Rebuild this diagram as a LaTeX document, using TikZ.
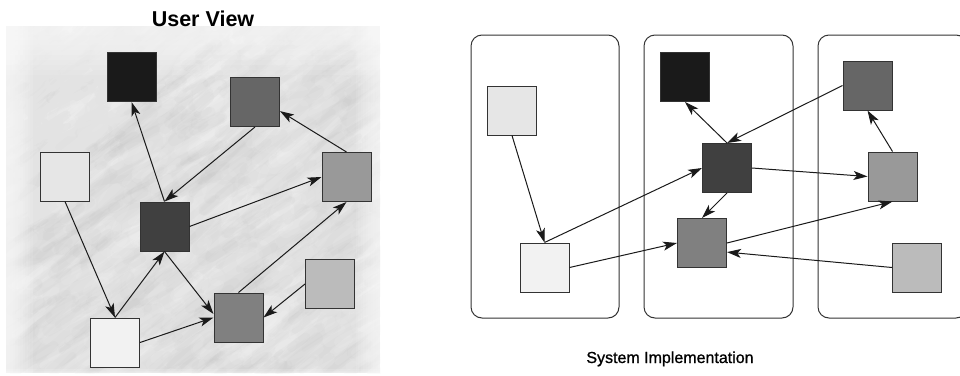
\documentclass[tikz,border=0pt]{standalone}
\usepackage{fontspec}
\newfontfamily\hv{Liberation Sans}
\newfontfamily\hvheavy[FakeBold=1.0]{Liberation Sans}
\usetikzlibrary{arrows.meta}

\definecolor{cE6}{HTML}{E6E6E6}
\definecolor{cF2}{HTML}{F2F2F2}
\definecolor{c1A}{HTML}{1A1A1A}
\definecolor{c40}{HTML}{404040}
\definecolor{c66}{HTML}{666666}
\definecolor{c80}{HTML}{808080}
\definecolor{c99}{HTML}{999999}
\definecolor{cBB}{HTML}{BBBBBB}
\definecolor{edgec}{HTML}{333333}
\definecolor{linec}{HTML}{1A1A1A}
\definecolor{paper}{HTML}{D8D8D8}
\definecolor{streakdark}{HTML}{B0B0B0}

\tikzset{
  box/.style={draw=edgec, line width=1pt, minimum size=49pt, inner sep=0pt, fill=#1},
  link/.style={draw=linec, line width=1pt, -{Stealth[length=14pt,width=9pt,inset=3.5pt]}},
  tier/.style={draw=edgec, line width=1pt, rounded corners=11pt},
  caption/.style={inner sep=0pt, anchor=base}
}

\begin{document}
\begin{tikzpicture}[x=1pt, y=-1pt]
\useasboundingbox (0,0) rectangle (960,375);

% ---- textured backdrop of the user view ----
\begin{scope}
  \clip (6,26) rectangle (380,373);
  \fill[paper] (6,26) rectangle (380,373);
  \pgfmathsetseed{11}
  % soft mottling
  \foreach \i in {1,...,260}{
    \pgfmathsetmacro\sx{rnd*390}
    \pgfmathsetmacro\sy{20+rnd*380}
    \pgfmathsetmacro\sr{8+rnd*18}
    \fill[white, opacity=0.07] (\sx,\sy) circle[x radius=\sr pt*1.8, y radius=\sr pt, rotate=32];
  }
  \foreach \i in {1,...,500}{
    \pgfmathsetmacro\sx{rnd*390}
    \pgfmathsetmacro\sy{20+rnd*380}
    \pgfmathsetmacro\sl{20+rnd*45}
    \pgfmathsetmacro\sa{-(25+rnd*22)}
    \pgfmathsetmacro\sw{5+rnd*10}
    \draw[white, opacity=0.09, line width=\sw pt, line cap=round] (\sx,\sy) -- ++(\sa:\sl);
  }
  \foreach \i in {1,...,380}{
    \pgfmathsetmacro\sx{rnd*390}
    \pgfmathsetmacro\sy{20+rnd*380}
    \pgfmathsetmacro\sl{15+rnd*40}
    \pgfmathsetmacro\sa{-(25+rnd*22)}
    \pgfmathsetmacro\sw{4+rnd*8}
    \draw[streakdark, opacity=0.06, line width=\sw pt, line cap=round] (\sx,\sy) -- ++(\sa:\sl);
  }
\end{scope}
% soft edges of the backdrop
\foreach \k in {0,...,9}{
  \fill[white, opacity=0.11] (0,0) rectangle (10+2.5*\k,375);
  \fill[white, opacity=0.10] (0,0) rectangle (390,30+5*\k);
  \fill[white, opacity=0.10] (378-2.5*\k,0) rectangle (390,375);
  \fill[white, opacity=0.035] (0,0) -- (230,0) -- (0,230+5*\k) -- cycle;
}
\foreach \k in {0,...,3}{
  \fill[white, opacity=0.15] (0,373-1.2*\k) rectangle (390,375);
}

% ---- user view ----
\node[caption] (title1) at (203,26) {\hv\bfseries\fontsize{21.5}{24}\selectfont User View};

\node[box=c1A] (Lblk) at (131.5,77)   {};
\node[box=c66] (Lg66) at (255,102)    {};
\node[box=cE6] (Le6)  at (65,176.5)   {};
\node[box=c40] (Ld40) at (164.5,226.5){};
\node[box=c99] (Lg99) at (346.5,177)  {};
\node[box=cBB] (Lbb)  at (330,284)    {};
\node[box=c80] (Lg80) at (238.5,317.5){};
\node[box=cF2] (Lf2)  at (115,342.5)  {};

\draw[link] (Ld40.north) -- (Lblk.south);
\draw[link] (Lg66.south) -- (Ld40.north);
\draw[link] (Lg99.north) -- (Lg66.-20);
\draw[link] (Ld40.east)  -- (Lg99.west);
\draw[link] (Le6.south)  -- (Lf2.north);
\draw[link] (Lf2.north)  -- (Ld40.south);
\draw[link] (Ld40.south) -- (Lg80.172);
\draw[link] (Lf2.east)   -- (Lg80.west);
\draw[link] (Lg80.north) -- (Lg99.south);
\draw[link] (Lbb.west)   -- (Lg80.east);

% ---- system implementation ----
\draw[tier] (471,35) rectangle (619,318);
\draw[tier] (644,35) rectangle (793,318);
\draw[tier] (818,35) rectangle (967,318);

\node[box=cE6] (Re6)  at (512,110.5)  {};
\node[box=cF2] (Rf2)  at (544.5,267.5){};
\node[box=c1A] (Rblk) at (685,77)     {};
\node[box=c40] (Rd40) at (727,168)    {};
\node[box=c80] (Rg80) at (702,243)    {};
\node[box=c66] (Rg66) at (867.5,85.5) {};
\node[box=c99] (Rg99) at (892.5,176.5){};
\node[box=cBB] (Rbb)  at (917,267.5)  {};

\draw[link] (Re6.south)  -- (Rf2.north);
\draw[link] (Rf2.north)  -- (Rd40.west);
\draw[link] (Rf2.east)   -- (Rg80.west);
\draw[link] (Rd40.north) -- (Rblk.south);
\draw[link] (Rg66.west)  -- (Rd40.north);
\draw[link] (Rd40.east)  -- (Rg99.west);
\draw[link] (Rd40.south) -- (Rg80.north);
\draw[link] (Rg80.east)  -- (Rg99.south);
\draw[link] (Rbb.west)   -- (Rg80.-20);
\draw[link] (Rg99.north) -- (Rg66.south);

\node[caption] (title2) at (670,363) {\hvheavy\fontsize{16}{19}\selectfont System Implementation};
\end{tikzpicture}
\end{document}
